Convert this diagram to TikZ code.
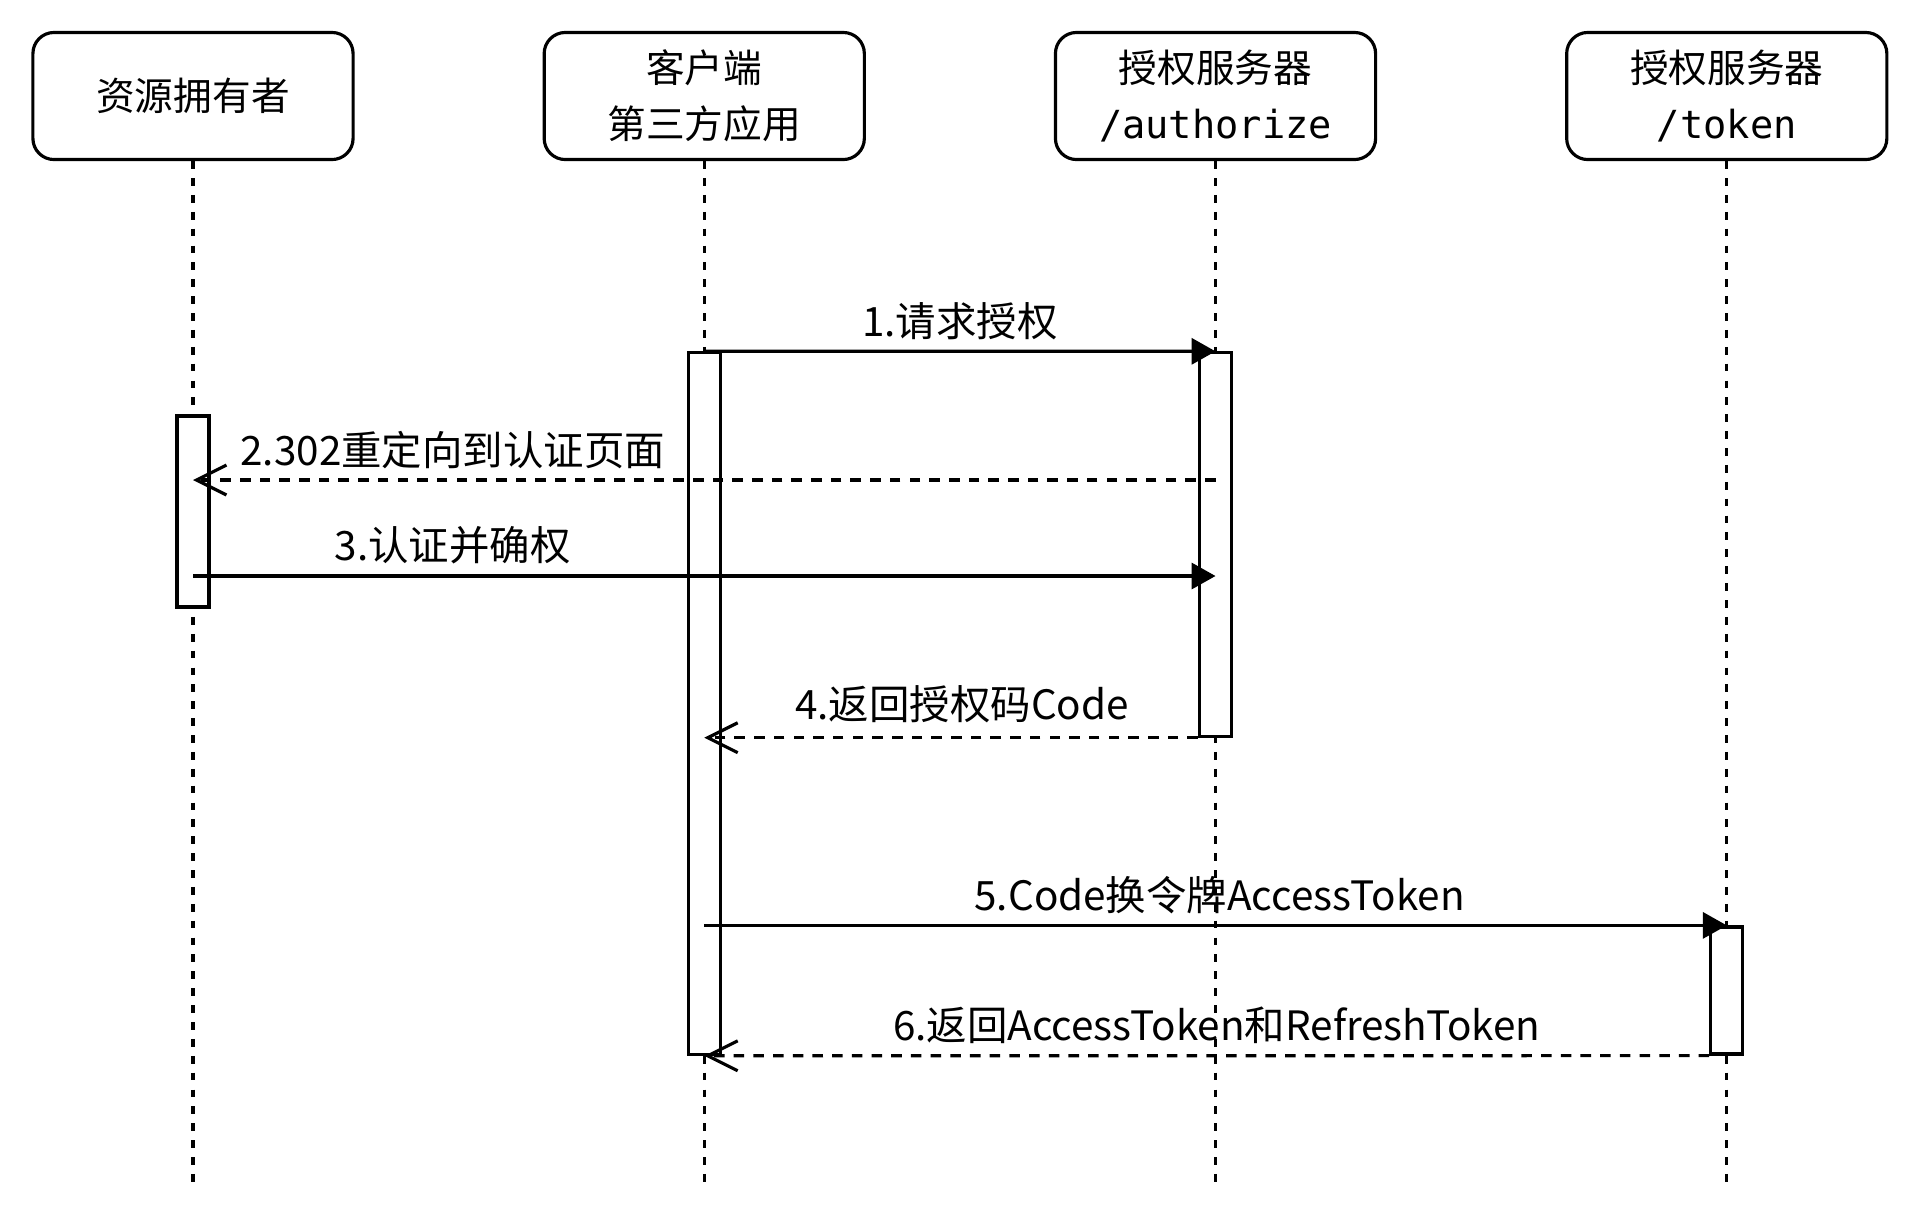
\documentclass[tikz,border=0pt]{standalone}
\usepackage{fontspec}
\setmainfont{Noto Sans CJK SC}
\newfontfamily\pathfont{DejaVu Sans Mono}
\usepackage{tikz}
\usetikzlibrary{arrows.meta, positioning, calc}
\definecolor{lineblack}{HTML}{000000}
\tikzstyle{actor} = [rectangle, rounded corners=6pt, minimum width=3.2cm, minimum height=1.27cm,
  align=center, draw=lineblack, fill=white, font=\fontsize{11}{16}\selectfont, line width=0.9pt]
\tikzstyle{lifeline} = [draw=lineblack, line width=0.9pt, dash pattern=on 2.2pt off 2.6pt]
\tikzstyle{actbar} = [rectangle, draw=lineblack, fill=white, minimum width=0.32cm, inner sep=0pt, line width=0.9pt]
\tikzstyle{call} = [-{Triangle[length=6.8pt, width=7.4pt]}, line width=0.9pt]
\tikzstyle{reply} = [-{Straight Barb[length=8.5pt, width=8.5pt]}, line width=0.9pt, dash pattern=on 3pt off 2.6pt]
\tikzstyle{msg} = [font=\fontsize{11.5}{14}\selectfont, above=-0.5pt]

\begin{document}
\begin{tikzpicture}[x=0.01cm, y=-0.01cm, node distance=1.878cm]
  \useasboundingbox (0,0) rectangle (1920,1217);

  % participants
  \node (owner) [actor] at (193,96) {资源拥有者};
  \node (client) [actor, right=of owner] {客户端\\第三方应用};
  \node (authz) [actor, right=of client] {授权服务器\\{\pathfont /authorize}};
  \node (tokensrv) [actor, right=of authz] {授权服务器\\{\pathfont /token}};

  % lifelines
  \foreach \p in {owner, client, authz, tokensrv} {
    \coordinate (\p End) at (\p |- 0,1183);
    \draw[lifeline] (\p.south) -- (\p End);
  }

  % activations
  \node (actC) [actbar, minimum height=7.01cm] at (client |- 0,703.5) {};
  \node (actA) [actbar, minimum height=3.83cm] at (authz |- 0,544.5) {};
  \node (actO) [actbar, minimum height=1.91cm] at (owner |- 0,511.5) {};
  \node (actT) [actbar, minimum height=1.27cm] at (tokensrv |- 0,990.5) {};

  % message end points
  \coordinate (m2a) at (authz |- 0,480);
  \coordinate (m2b) at (owner |- 0,480);
  \coordinate (m3a) at (owner |- 0,576);
  \coordinate (m3b) at (authz |- 0,576);
  \coordinate (m4b) at (client |- actA.south);
  \coordinate (m5a) at (client |- actT.north);

  % messages
  \draw[call] (actC.north) -- node[msg] {1.请求授权} (actA.north);
  \draw[reply] (m2a) -- node[msg, pos=0.746] {2.302重定向到认证页面} (m2b);
  \draw[call] (m3a) -- node[msg, pos=0.254] {3.认证并确权} (m3b);
  \draw[reply] (actA.south west) -- node[msg, pos=0.478, above=0.5pt] {4.返回授权码Code} (m4b);
  \draw[call] (m5a) -- node[msg, pos=0.504] {5.Code换令牌AccessToken} (actT.north);
  \draw[reply] (actT.south west) -- node[msg, pos=0.49] {6.返回AccessToken和RefreshToken} (actC.south);
\end{tikzpicture}
\end{document}
